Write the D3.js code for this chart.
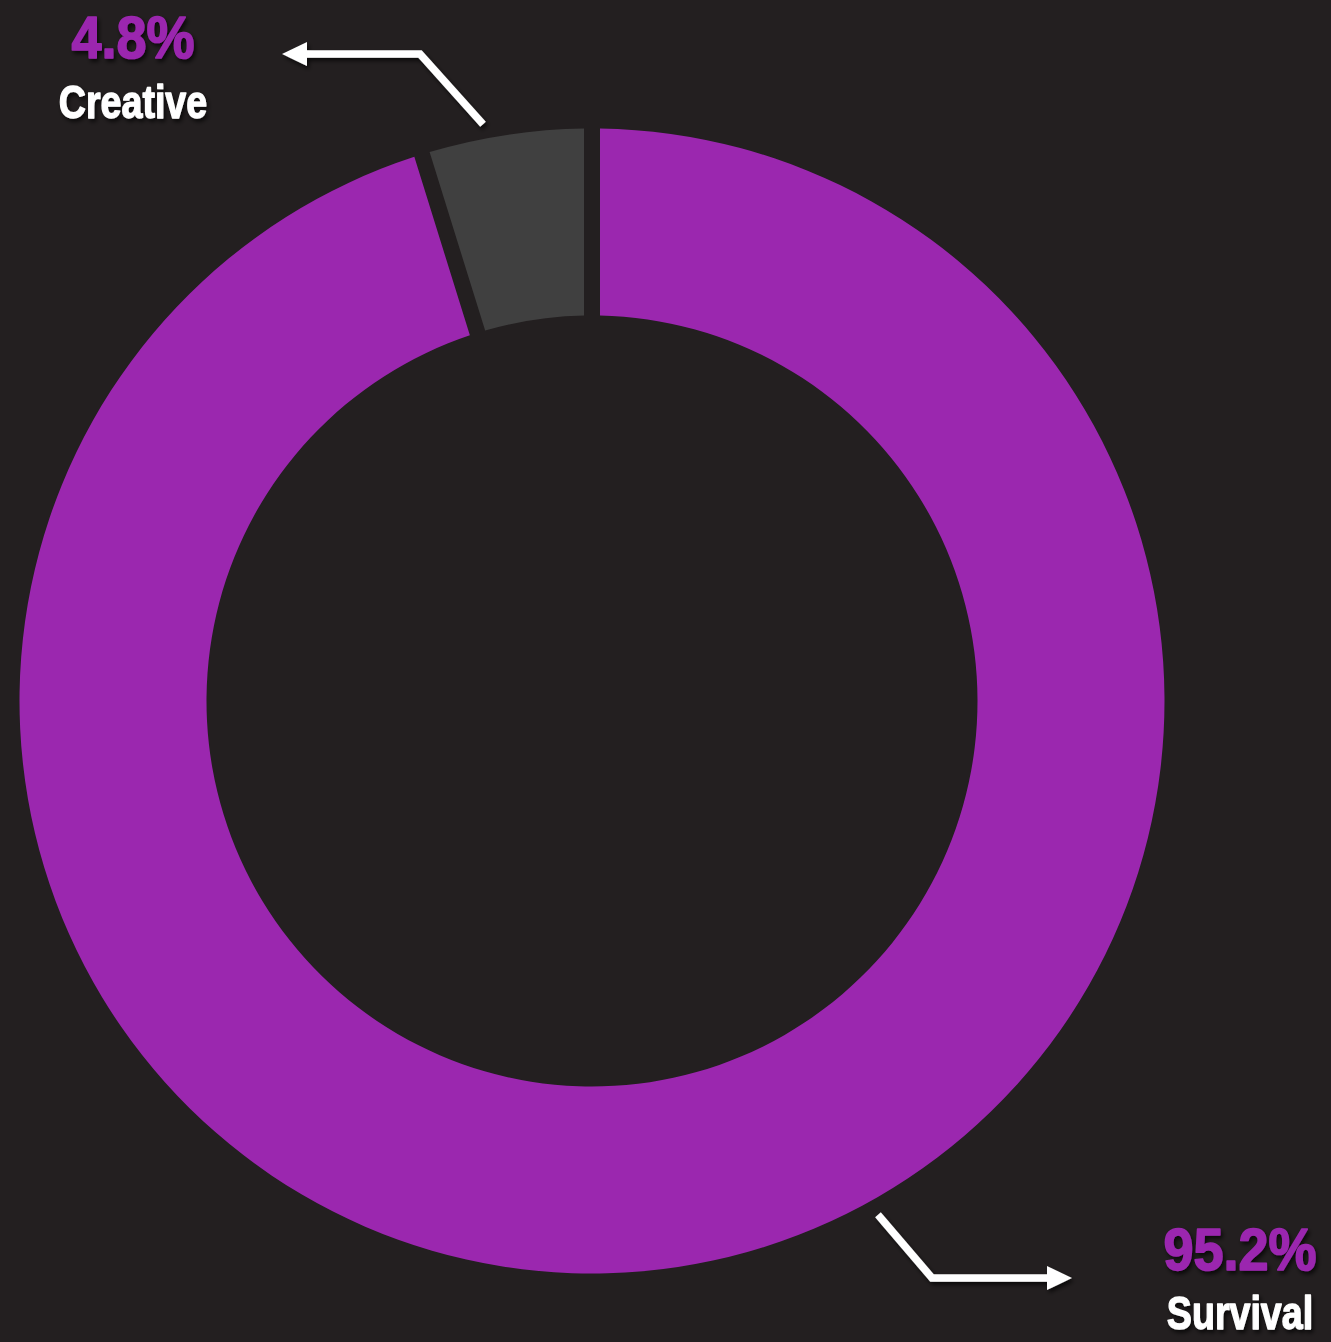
<!DOCTYPE html>
<html>
<head>
<meta charset="utf-8">
<script src="https://cdn.jsdelivr.net/npm/d3@7"></script>
<style>
html,body{margin:0;padding:0;background:#231F20;overflow:hidden;}
text{font-family:"Liberation Sans",Arial,sans-serif;font-weight:bold;}
</style>
</head>
<body>
<svg id="chart" width="1331" height="1342"></svg>
<script>
const categories = ["Survival", "Creative"];
const values = [95.2, 4.8];
const valueLabels = ["95.2%", "4.8%"];
const colors = ["#9B27AF", "#404040"];
const labelColor = "#9B27AF";

const W = 1331, H = 1342;
const cx = 592, cy = 701, outerR = 572.5, innerR = 385.5;
const svg = d3.select("#chart");
svg.append("rect").attr("width", W).attr("height", H).attr("fill", "#231F20");

const defs = svg.append("defs");
const f = defs.append("filter").attr("id", "sh").attr("x", "-20%").attr("y", "-20%").attr("width", "140%").attr("height", "140%");
f.append("feDropShadow").attr("dx", 2).attr("dy", 3).attr("stdDeviation", 2).attr("flood-color", "#000").attr("flood-opacity", 0.7);

const data = categories.map((c, i) => ({ cat: c, value: values[i], label: valueLabels[i], color: colors[i] }));
const pie = d3.pie().sort(null).value(d => d.value).startAngle(0).endAngle(2 * Math.PI);
const padR = Math.sqrt(innerR * innerR + outerR * outerR);
const arc = d3.arc().innerRadius(innerR).outerRadius(outerR).padRadius(padR).padAngle(16 / padR);

const g = svg.append("g").attr("transform", `translate(${cx},${cy})`);
g.selectAll("path.slice").data(pie(data)).enter().append("path")
  .attr("class", "slice").attr("d", arc).attr("fill", d => d.data.color);

// annotations: arrow start given as polar (angle deg from top, radius), elbow and label layout
const ann = {
  Survival: { a0: 150.9, r0: 588, elbow: [932, 1278], end: [1072, 1278], lx: 1240, ly1: 1270, ly2: 1329 },
  Creative: { a0: -10.7, r0: 587, elbow: [420, 54], end: [282, 54], lx: 133, ly1: 58, ly2: 118 }
};

data.forEach(d => {
  const a = ann[d.cat];
  const rad = a.a0 * Math.PI / 180;
  const sx = cx + a.r0 * Math.sin(rad), sy = cy - a.r0 * Math.cos(rad);
  const dir = Math.sign(a.end[0] - a.elbow[0]);
  const headLen = 25, headHalf = 12;
  const lineEnd = a.end[0] - dir * headLen + dir * 2;
  const ag = svg.append("g").attr("filter", "url(#sh)");
  ag.append("path")
    .attr("d", d3.line()([[sx, sy], a.elbow, [lineEnd, a.end[1]]]))
    .attr("fill", "none").attr("stroke", "#fff").attr("stroke-width", 7.5).attr("stroke-linejoin", "miter");
  ag.append("path")
    .attr("d", d3.line()([[a.end[0], a.end[1]], [a.end[0] - dir * headLen, a.end[1] - headHalf], [a.end[0] - dir * headLen, a.end[1] + headHalf]]) + "Z")
    .attr("fill", "#fff");
  const tg = svg.append("g").attr("filter", "url(#sh)");
  tg.append("text").attr("transform", `translate(${a.lx},${a.ly1}) scale(0.9,1)`).attr("text-anchor", "middle")
    .attr("font-size", 60).attr("fill", labelColor).attr("stroke", labelColor).attr("stroke-width", 1.6)
    .attr("stroke-linejoin", "round").text(d.label);
  tg.append("text").attr("transform", `translate(${a.lx},${a.ly2}) scale(0.8,1)`).attr("text-anchor", "middle")
    .attr("font-size", 47).attr("fill", "#fff").attr("stroke", "#fff").attr("stroke-width", 1.3)
    .attr("stroke-linejoin", "round").text(d.cat);
});
</script>
</body>
</html>
